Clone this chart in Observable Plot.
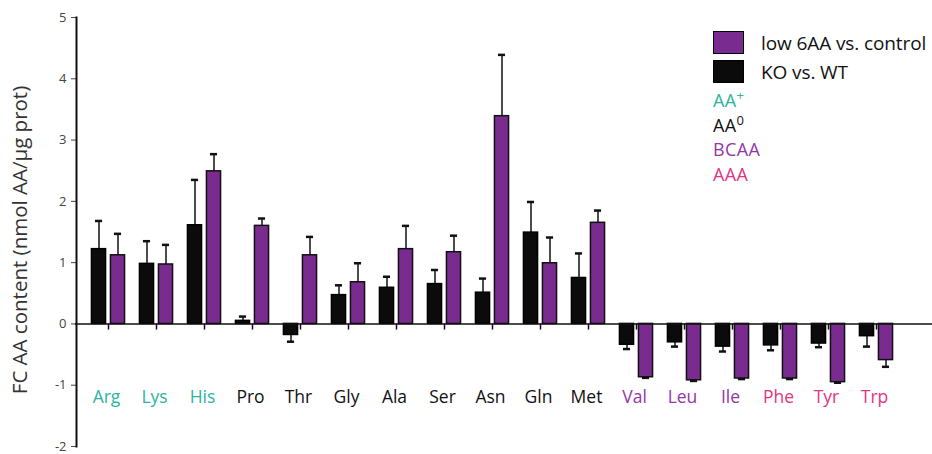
<!DOCTYPE html>
<html>
<head>
<meta charset="utf-8">
<script src="https://cdn.jsdelivr.net/npm/d3@7"></script>
<script src="https://cdn.jsdelivr.net/npm/@observablehq/plot@0.6"></script>
<style>
  html, body { margin: 0; padding: 0; background: #fff; }
  #wrap { position: relative; width: 932px; height: 454px; font-family: "Open Sans", sans-serif; }
  #legend { position: absolute; left: 713px; top: 28px; color: #111; }
  .row { display: flex; align-items: center; height: 29px; }
  .sw { width: 29px; height: 21px; border: 1.5px solid #000; margin-right: 17px; flex: none; }
  .lt { font-size: 19px; white-space: nowrap; letter-spacing: -0.1px; }
  .grp { font-size: 18px; line-height: 24.5px; letter-spacing: 0.4px; }
  .grp sup { font-size: 13px; line-height: 0; vertical-align: 0; position: relative; top: -7px; }
</style>
</head>
<body>
<div id="wrap"></div>
<script>
const aminoAcids = ["Arg","Lys","His","Pro","Thr","Gly","Ala","Ser","Asn","Gln","Met","Val","Leu","Ile","Phe","Tyr","Trp"];
const groupOf = ["AA+","AA+","AA+","AA0","AA0","AA0","AA0","AA0","AA0","AA0","AA0","BCAA","BCAA","BCAA","AAA","AAA","AAA"];
const koValues  = [1.22, 0.98, 1.61, 0.05, -0.18, 0.47, 0.59, 0.65, 0.51, 1.49, 0.75, -0.34, -0.30, -0.37, -0.35, -0.32, -0.20];
const koErr     = [0.46, 0.37, 0.74, 0.07, 0.11, 0.16, 0.18, 0.23, 0.23, 0.50, 0.40, 0.07, 0.07, 0.08, 0.08, 0.06, 0.17];
const lowValues = [1.12, 0.97, 2.49, 1.60, 1.12, 0.68, 1.22, 1.17, 3.39, 0.99, 1.65, -0.87, -0.92, -0.89, -0.89, -0.95, -0.59];
const lowErr    = [0.35, 0.32, 0.28, 0.12, 0.30, 0.31, 0.38, 0.27, 1.00, 0.42, 0.20, 0.01, 0.01, 0.01, 0.01, 0.01, 0.11];
const yTicks = [-2, -1, 0, 1, 2, 3, 4, 5];
const yLabel = "FC AA content (nmol AA/µg prot)";
const seriesNames = ["low 6AA vs. control", "KO vs. WT"];
const groupNames = ["AA+", "AA0", "BCAA", "AAA"];
const groupColors = {"AA+": "#2bb3a0", "AA0": "#111111", "BCAA": "#9636a6", "AAA": "#e33482"};
const purple = "#7a2b8f";
const black = "#0b0b0b";

const W = 932, H = 454, ML = 76, MR = 25, MT = 17, MB = 8;
const step = (W - ML - MR) / aminoAcids.length;
const half = step / 2;

const ko = aminoAcids.map((aa, i) => ({aa, v: koValues[i], end: koValues[i] + Math.sign(koValues[i]) * koErr[i]}));
const low = aminoAcids.map((aa, i) => ({aa, v: lowValues[i], end: lowValues[i] + Math.sign(lowValues[i]) * lowErr[i]}));

const plot = Plot.plot({
  width: W, height: H,
  marginLeft: ML, marginRight: MR, marginTop: MT, marginBottom: MB,
  style: {fontFamily: "Open Sans, sans-serif", fontSize: "13px", color: "#444", background: "transparent"},
  x: {domain: aminoAcids, padding: 0, axis: null},
  y: {domain: [-2, 5], ticks: yTicks, tickSize: 5, tickPadding: 5, tickFormat: d => String(d), line: true, label: null},
  marks: [
    Plot.frame({anchor: "left", stroke: "#111", strokeWidth: 2}),
    // error bars
    Plot.ruleX(ko, {x: "aa", y1: "v", y2: "end", dx: -9.5, stroke: "#111", strokeWidth: 1.5}),
    Plot.tickY(ko, {x: "aa", y: "end", insetLeft: half - 13.5, insetRight: half + 5.5, stroke: "#111", strokeWidth: 2.5}),
    Plot.ruleX(low, {x: "aa", y1: "v", y2: "end", dx: 9.5, stroke: "#111", strokeWidth: 1.5}),
    Plot.tickY(low, {x: "aa", y: "end", insetLeft: half + 5.5, insetRight: half - 13.5, stroke: "#111", strokeWidth: 2.5}),
    // bars
    Plot.barY(ko, {x: "aa", y: "v", insetLeft: half - 17, insetRight: half + 2, fill: black, stroke: "#000", strokeWidth: 1.5}),
    Plot.barY(low, {x: "aa", y: "v", insetLeft: half + 2, insetRight: half - 17, fill: purple, stroke: "#111", strokeWidth: 1.5}),
    // zero axis line + category ticks
    Plot.ruleY([0], {stroke: "#111", strokeWidth: 1.5, insetRight: -MR, insetLeft: -1}),
    Plot.ruleX(aminoAcids, {x: d => d, y1: 0, y2: -0.1, stroke: "#111", strokeWidth: 1.5}),
    // category labels
    Plot.text(aminoAcids, {x: d => d, frameAnchor: "bottom", lineAnchor: "middle", dy: -49, dx: -2,
      text: d => d, fontSize: 17.5, fill: (d, i) => groupColors[groupOf[i]]}),
    // y label
    Plot.text([yLabel], {frameAnchor: "left", textAnchor: "middle", lineAnchor: "middle", rotate: -90, dx: -56, dy: 8,
      fontSize: 20.5, fill: "#333"})
  ]
});

const wrap = document.getElementById("wrap");
wrap.appendChild(plot);

const legend = document.createElement("div");
legend.id = "legend";
const swColors = [purple, black];
legend.innerHTML =
  seriesNames.map((s, i) => `<div class="row"><div class="sw" style="background:${swColors[i]}"></div><span class="lt">${s}</span></div>`).join("") +
  `<div style="margin-top:2px">` +
  groupNames.map(g => {
    const m = g.match(/^AA([+0])$/);
    const label = m ? `AA<sup>${m[1]}</sup>` : g;
    return `<div class="grp" style="color:${groupColors[g]}">${label}</div>`;
  }).join("") + `</div>`;
wrap.appendChild(legend);
</script>
</body>
</html>
